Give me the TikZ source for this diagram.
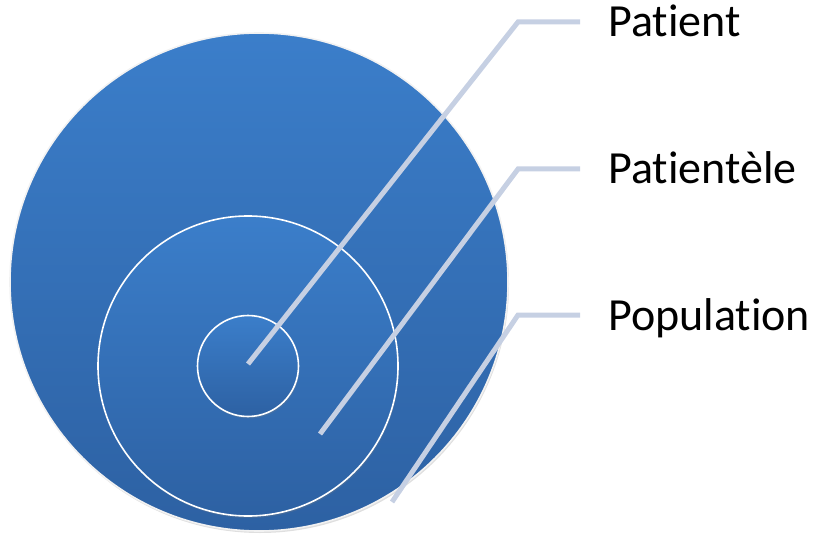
\documentclass[tikz,border=0pt]{standalone}
\usepackage{fontspec}
\setmainfont{Carlito}[Ligatures=NoCommon]
\usetikzlibrary{positioning, shadows}
\definecolor{ringtop}{RGB}{59,126,202}
\definecolor{ringbottom}{RGB}{45,97,163}
\definecolor{leader}{RGB}{198,208,227}

\begin{document}
\begin{tikzpicture}[x=1pt, y=-1pt, font=\fontsize{46}{55}\selectfont]
    \useasboundingbox (0,0) rectangle (819,540);
    % Define the three nested circles
    \node (population) [circle, draw=white!90!gray, line width=1.6pt, top color=ringtop, bottom color=ringbottom, minimum size=498pt, inner sep=0pt, drop shadow={opacity=0.25, shadow xshift=1pt, shadow yshift=-2pt}] at (259,282) {};
    \node (patientele) [circle, draw=white, line width=1.6pt, top color=ringtop, bottom color=ringbottom, minimum size=300pt, inner sep=0pt, drop shadow={opacity=0.25, shadow xshift=1pt, shadow yshift=-2pt}] at (248,366) {};
    \node (patient) [circle, draw=white, line width=1.6pt, top color=ringtop, bottom color=ringbottom, minimum size=101pt, inner sep=0pt, drop shadow={opacity=0.25, shadow xshift=1pt, shadow yshift=-2pt}] at (248,366) {};
    % Define the points and bends of the leader lines
    \coordinate (patientpt) at (248,364);
    \coordinate (patientbend) at (518,22);
    \coordinate (patientend) at (580,22);
    \coordinate (patientelept) at (320,434);
    \coordinate (patientelebend) at (518,169);
    \coordinate (patienteleend) at (580,169);
    \coordinate (populationpt) at (392,502);
    \coordinate (populationbend) at (518,315);
    \coordinate (populationend) at (580,315);
    % Define the labels
    \node (patientlabel) [anchor=base west, inner sep=0pt] at (608,37) {Patient};
    \node (patientelelabel) [anchor=base west, inner sep=0pt] at (608,184) {Patientèle};
    \node (populationlabel) [anchor=base west, inner sep=0pt] at (608,330) {Population};
    % Draw the leader lines from each circle to its label
    \draw[leader, line width=5pt] (patientpt) -- (patientbend) -- (patientend);
    \draw[leader, line width=5pt] (patientelept) -- (patientelebend) -- (patienteleend);
    \draw[leader, line width=5pt] (populationpt) -- (populationbend) -- (populationend);
\end{tikzpicture}
\end{document}
